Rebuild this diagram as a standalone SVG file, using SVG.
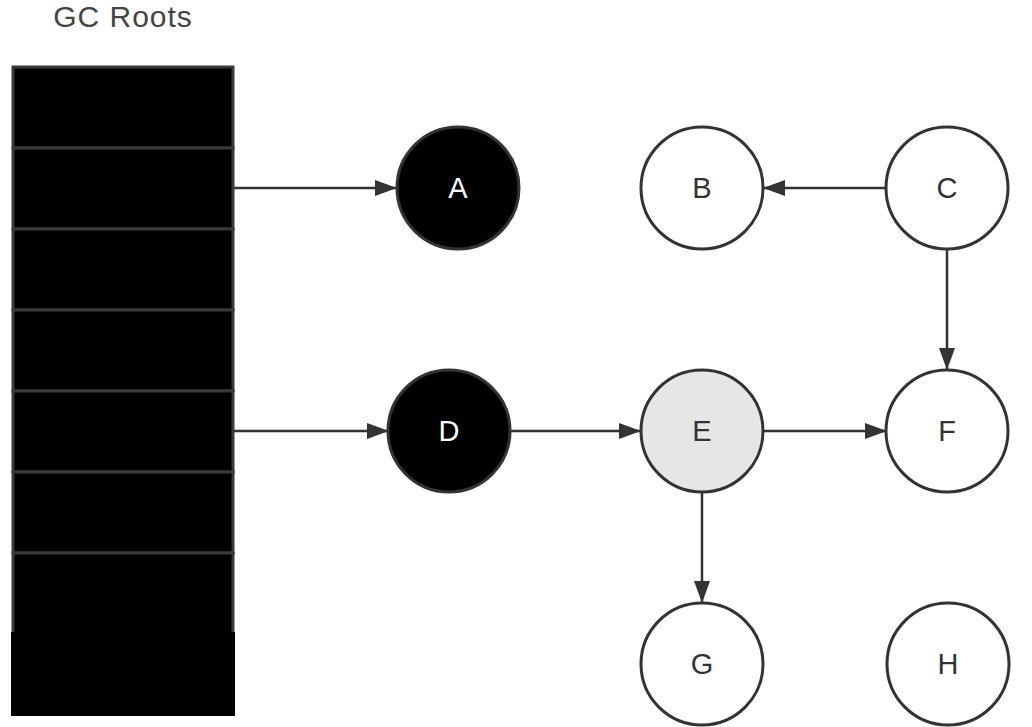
<svg xmlns="http://www.w3.org/2000/svg" width="1032" height="727" viewBox="0 0 1032 727">
<style>
.lbl{font-family:"Liberation Sans",Arial,sans-serif;font-size:29px;text-anchor:middle;dominant-baseline:central}
.node{stroke:#333;stroke-width:3}
.edge{stroke:#333;stroke-width:2.5;fill:none;marker-end:url(#ah)}
.cell{fill:#000;stroke:#3a3a3a;stroke-width:3}
</style>
<defs>
<marker id="ah" markerWidth="22" markerHeight="16" refX="21" refY="8" orient="auto" markerUnits="userSpaceOnUse">
<path d="M0,0 L22,8 L0,16 Z" fill="#333"/>
</marker>
</defs>
<rect width="1032" height="727" fill="#fff"/>
<text x="123" y="16" class="lbl" fill="#444" style="font-size:30px;letter-spacing:1px">GC Roots</text>
<g id="gcroots">
<rect class="cell" x="13" y="67" width="220" height="81"/>
<rect class="cell" x="13" y="148" width="220" height="81"/>
<rect class="cell" x="13" y="229" width="220" height="81"/>
<rect class="cell" x="13" y="310" width="220" height="81"/>
<rect class="cell" x="13" y="391" width="220" height="81"/>
<rect class="cell" x="13" y="472" width="220" height="81"/>
<rect class="cell" x="13" y="553" width="220" height="100"/>
<rect x="11" y="632" width="224" height="84" fill="#000"/>
</g>
<g id="connectors">
<line class="edge" x1="234" y1="188" x2="396" y2="188"/>
<line class="edge" x1="234" y1="431" x2="388" y2="431"/>
<line class="edge" x1="511" y1="431" x2="640" y2="431"/>
<line class="edge" x1="764" y1="431" x2="886" y2="431"/>
<line class="edge" x1="886" y1="188" x2="764" y2="188"/>
<line class="edge" x1="947" y1="250" x2="947" y2="369"/>
<line class="edge" x1="702" y1="493" x2="702" y2="602"/>
</g>
<g id="A"><circle class="node" cx="458" cy="188" r="61" fill="#000"/><text class="lbl" x="458" y="188" fill="#fff">A</text></g>
<g id="B"><circle class="node" cx="702" cy="188" r="61" fill="#fff"/><text class="lbl" x="702" y="188" fill="#333">B</text></g>
<g id="C"><circle class="node" cx="947" cy="188" r="61" fill="#fff"/><text class="lbl" x="947" y="188" fill="#333">C</text></g>
<g id="D"><circle class="node" cx="449" cy="431" r="61" fill="#000"/><text class="lbl" x="449" y="431" fill="#fff">D</text></g>
<g id="E"><circle class="node" cx="702" cy="431" r="61" fill="#e6e6e6"/><text class="lbl" x="702" y="431" fill="#333">E</text></g>
<g id="F"><circle class="node" cx="947" cy="431" r="61" fill="#fff"/><text class="lbl" x="947" y="431" fill="#333">F</text></g>
<g id="G"><circle class="node" cx="702" cy="664" r="61" fill="#fff"/><text class="lbl" x="702" y="664" fill="#333">G</text></g>
<g id="H"><circle class="node" cx="948" cy="664" r="61" fill="#fff"/><text class="lbl" x="948" y="664" fill="#333">H</text></g>
</svg>
